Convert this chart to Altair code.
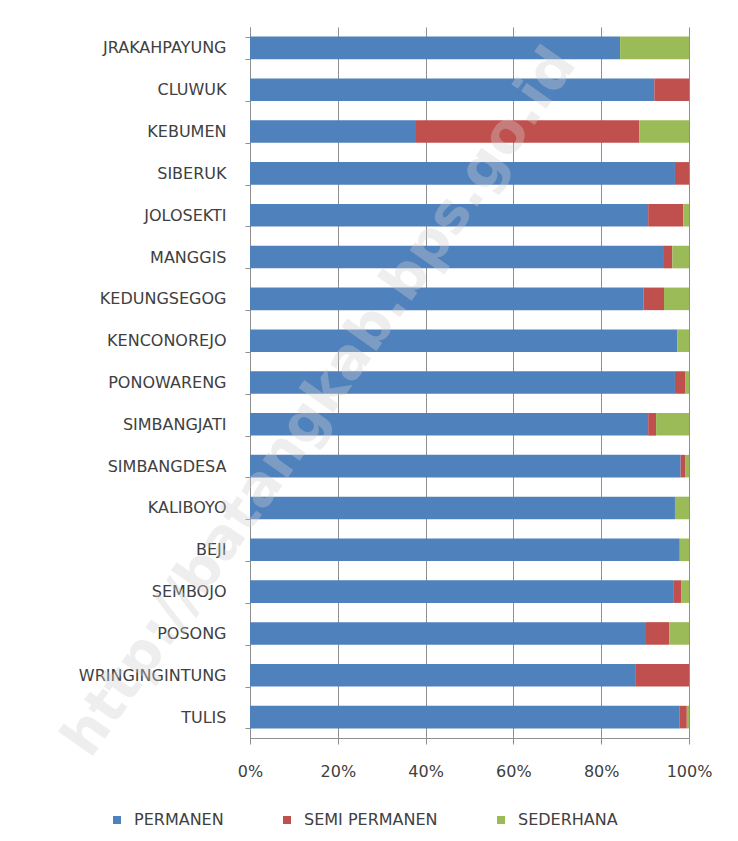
import altair as alt
import pandas as pd

desa = ["JRAKAHPAYUNG", "CLUWUK", "KEBUMEN", "SIBERUK", "JOLOSEKTI", "MANGGIS",
        "KEDUNGSEGOG", "KENCONOREJO", "PONOWARENG", "SIMBANGJATI", "SIMBANGDESA",
        "KALIBOYO", "BEJI", "SEMBOJO", "POSONG", "WRINGINGINTUNG", "TULIS"]
permanen = [84.3, 92.1, 37.6, 96.8, 90.7, 94.3, 89.6, 97.3, 96.8, 90.7, 98.1, 96.8, 97.9, 96.4, 90.2, 87.9, 97.9]
semi_permanen = [0.0, 7.9, 51.1, 3.2, 8.0, 1.9, 4.7, 0.0, 2.3, 1.8, 1.0, 0.0, 0.0, 1.9, 5.3, 12.1, 1.6]
sederhana = [15.7, 0.0, 11.3, 0.0, 1.3, 3.8, 5.7, 2.7, 0.9, 7.5, 0.9, 3.2, 2.1, 1.7, 4.5, 0.0, 0.5]
series = ["PERMANEN", "SEMI PERMANEN", "SEDERHANA"]
colors = ["#4F81BD", "#C0504D", "#9BBB59"]
x_ticks = [0, 0.2, 0.4, 0.6, 0.8, 1.0]

rows = []
for i, d in enumerate(desa):
    for j, (s, vals) in enumerate(zip(series, [permanen, semi_permanen, sederhana])):
        rows.append({"desa": d, "jenis": s, "nilai": vals[i], "urut": j})
df = pd.DataFrame(rows)

FONT = "DejaVu Sans"
TXT = "#404040"
GRID = "#8f8f8f"

bars = alt.Chart(df).mark_bar().encode(
    y=alt.Y("desa:N", sort=desa, title=None,
            scale=alt.Scale(paddingInner=0.46, paddingOuter=0.23),
            axis=alt.Axis(labelFont=FONT, labelFontSize=16, labelColor=TXT,
                          labelPadding=19, tickSize=5, tickColor=GRID,
                          tickBand="extent", domainColor=GRID, grid=False)),
    x=alt.X("nilai:Q", stack="normalize", title=None,
            scale=alt.Scale(domain=[0, 1], nice=False),
            axis=alt.Axis(values=x_ticks, format=".0%", labelFont=FONT,
                          labelFontSize=16, labelColor=TXT, labelPadding=19,
                          labelFlush=False, tickSize=6, tickColor=GRID,
                          domainColor=GRID, grid=True, gridColor=GRID,
                          gridWidth=1)),
    color=alt.Color("jenis:N", scale=alt.Scale(domain=series, range=colors),
                    legend=alt.Legend(title=None, orient="none", direction="horizontal",
                                      legendX=-141, legendY=785,
                                      symbolType="square", symbolSize=64,
                                      symbolStrokeWidth=0, labelFont=FONT,
                                      labelFontSize=16, labelColor=TXT,
                                      labelOffset=9, columnPadding=55)),
    order=alt.Order("urut:Q"),
)

watermark = alt.Chart(pd.DataFrame({"t": ["http://batangkab.bps.go.id"]})).mark_text(
    font=FONT, fontSize=56, fontWeight="bold", angle=305, color="#cfcfcf",
    opacity=0.35, align="center", baseline="middle"
).encode(x=alt.value(70), y=alt.value(375), text="t:N")

chart = alt.layer(bars, watermark).properties(
    width=439, height=711,
    autosize=alt.AutoSizeParams(type="none"),
    padding={"left": 242, "top": 19, "right": 41, "bottom": 95},
    background="white",
).configure_view(stroke=None)

chart.save("out.html", embed_options={"renderer": "svg", "actions": False})
